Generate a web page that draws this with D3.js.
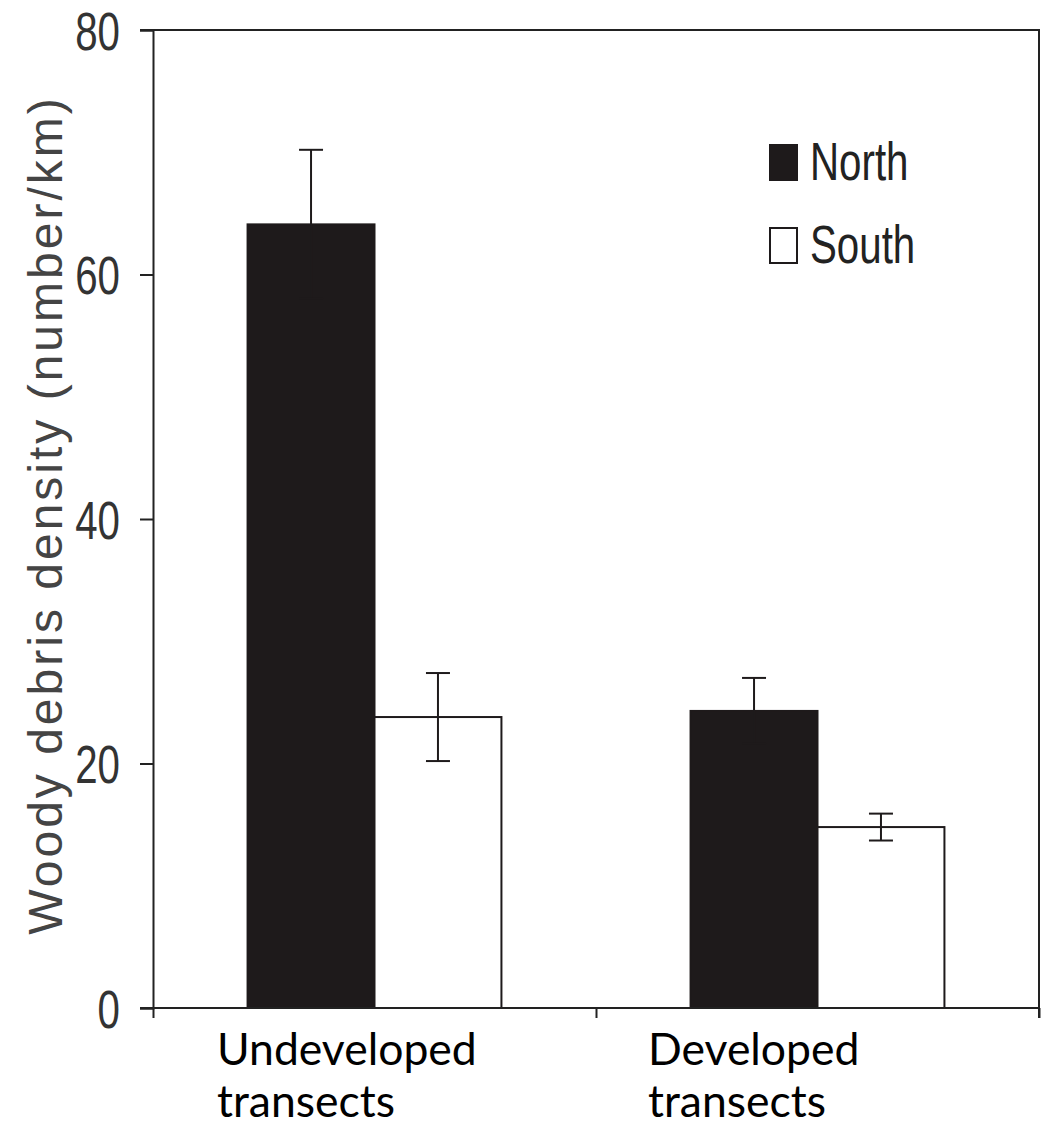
<!DOCTYPE html>
<html>
<head>
<meta charset="utf-8">
<script src="https://cdn.jsdelivr.net/npm/d3@7"></script>
<style>
  body { margin: 0; background: #fff; }
  svg { display: block; }
</style>
</head>
<body>
<svg id="chart" width="1051" height="1127"></svg>
<script>
// data
let categories = ["Undeveloped transects", "Developed transects"];
let catLines = [["Undeveloped", "transects"], ["Developed", "transects"]];
let series = ["North", "South"];
let north = [64.1, 24.3];
let northErr = [6.1, 2.7];
let south = [23.8, 14.8];
let southErr = [3.6, 1.1];
let yTicks = [0, 20, 40, 60, 80];

let svg = d3.select("svg#chart"),
    margin = {top: 30, right: 12, bottom: 119, left: 153},
    width = +svg.attr("width") - margin.left - margin.right,
    height = +svg.attr("height") - margin.top - margin.bottom,
    g = svg.append("g").attr("transform", "translate(" + margin.left + "," + margin.top + ")");

let x0 = d3.scaleBand().domain(categories).range([0, width]);
let x1 = d3.scaleBand().domain(series).range([0, x0.bandwidth()]).paddingOuter(0.745);
let y = d3.scaleLinear().domain([0, 80]).range([height, 0]);

let rows = categories.map(function(c, i) {
    return [
        {cat: c, s: "North", v: north[i], e: northErr[i]},
        {cat: c, s: "South", v: south[i], e: southErr[i]}
    ];
});
let flat = d3.merge(rows);

let axisColor = "#222";
let ink = "#1e1a1b";
// the original uses a narrow grotesque; squeeze Liberation Sans to match
let numFont = "'Liberation Sans', Arial, sans-serif";
let squeeze = 0.76;

// bars
g.selectAll("rect.bar")
    .data(flat)
    .enter().append("rect")
    .attr("class", "bar")
    .attr("x", function(d) { return x0(d.cat) + x1(d.s); })
    .attr("y", function(d) { return y(d.v); })
    .attr("width", x1.bandwidth())
    .attr("height", function(d) { return height - y(d.v); })
    .attr("fill", function(d) { return d.s == "North" ? ink : "#fff"; })
    .attr("stroke", ink)
    .attr("stroke-width", 2);

// error bars
let eb = g.selectAll("g.err")
    .data(flat)
    .enter().append("g")
    .attr("class", "err")
    .attr("transform", function(d) { return "translate(" + (x0(d.cat) + x1(d.s) + x1.bandwidth() / 2) + ",0)"; })
    .attr("stroke", ink)
    .attr("stroke-width", 2);
eb.append("line")
    .attr("y1", function(d) { return y(d.v + d.e); })
    .attr("y2", function(d) { return y(d.v - d.e); });
eb.append("line")
    .attr("x1", -12).attr("x2", 12)
    .attr("y1", function(d) { return y(d.v + d.e); })
    .attr("y2", function(d) { return y(d.v + d.e); });
eb.append("line")
    .attr("x1", -12).attr("x2", 12)
    .attr("y1", function(d) { return y(d.v - d.e); })
    .attr("y2", function(d) { return y(d.v - d.e); });

// frame: top and right
g.append("path")
    .attr("d", "M-13,0H" + width + "V" + (height + 10))
    .attr("fill", "none")
    .attr("stroke", axisColor)
    .attr("stroke-width", 2);

// y axis
let yAxis = g.append("g")
    .call(d3.axisLeft(y).tickValues(yTicks).tickSize(13).tickPadding(20));
yAxis.select(".domain").attr("stroke", axisColor).attr("stroke-width", 2);
yAxis.selectAll(".tick line").attr("stroke", axisColor).attr("stroke-width", 2);
yAxis.selectAll(".tick text")
    .attr("fill", "#333")
    .attr("x", -33 / squeeze)
    .attr("dy", "0.36em")
    .attr("transform", "scale(" + squeeze + ",1)")
    .style("font-family", numFont)
    .style("font-size", "53px");

// x axis (ticks between groups)
let xEdge = d3.scaleLinear().domain([0, categories.length]).range([0, width]);
let xAxis = g.append("g")
    .attr("transform", "translate(0," + height + ")")
    .call(d3.axisBottom(xEdge).tickValues(d3.range(categories.length + 1)).tickSize(10).tickFormat(""));
xAxis.select(".domain").attr("stroke", axisColor).attr("stroke-width", 2).attr("d", "M-13,0H" + width);
xAxis.selectAll(".tick line").attr("stroke", axisColor).attr("stroke-width", 2);

// category labels
g.selectAll("text.cat")
    .data(categories)
    .enter().append("text")
    .attr("class", "cat")
    .attr("x", function(d, i) { return x0(d) + 64 - i * 12; })
    .attr("y", height + 57)
    .attr("fill", "#000")
    .style("font-family", "Lato, 'Open Sans', sans-serif")
    .style("font-size", "44.5px")
    .selectAll("tspan")
    .data(function(d, i) { return catLines[i]; })
    .enter().append("tspan")
    .attr("x", function() { return d3.select(this.parentNode).attr("x"); })
    .attr("dy", function(d, i) { return i == 0 ? 0 : 52; })
    .text(function(d) { return d; });

// y title
svg.append("text")
    .attr("transform", "translate(62,515) rotate(-90)")
    .attr("text-anchor", "middle")
    .attr("fill", "#444")
    .style("font-family", numFont)
    .style("font-size", "48px")
    .style("letter-spacing", "3px")
    .text("Woody debris density (number/km)");

// legend
let legend = g.selectAll("g.legend")
    .data(series)
    .enter().append("g")
    .attr("class", "legend")
    .attr("transform", function(d, i) { return "translate(617," + (115 + i * 83) + ")"; });
legend.append("rect")
    .attr("width", 27)
    .attr("height", 35)
    .attr("fill", function(d) { return d == "North" ? ink : "#fff"; })
    .attr("stroke", ink)
    .attr("stroke-width", 2);
legend.append("text")
    .attr("x", 40 / squeeze)
    .attr("y", 35)
    .attr("transform", "scale(" + squeeze + ",1)")
    .attr("fill", "#222")
    .style("font-family", numFont)
    .style("font-size", "53px")
    .text(function(d) { return d; });
</script>
</body>
</html>
